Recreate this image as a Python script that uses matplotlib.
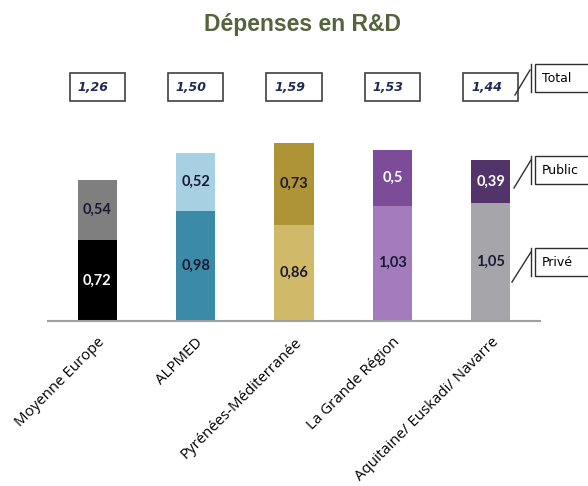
import matplotlib
matplotlib.use("Agg")
import matplotlib.pyplot as plt
from matplotlib.patches import Rectangle
from matplotlib.lines import Line2D

# Dépenses en R&D (% du PIB) par territoire
categories = ["Moyenne Europe", "ALPMED", "Pyrénées-Méditerranée",
              "La Grande Région", "Aquitaine/ Euskadi/ Navarre"]
prive = [0.72, 0.98, 0.86, 1.03, 1.05]
public = [0.54, 0.52, 0.73, 0.50, 0.39]
total = [1.26, 1.50, 1.59, 1.53, 1.44]
prive_labels = ["0,72", "0,98", "0,86", "1,03", "1,05"]
public_labels = ["0,54", "0,52", "0,73", "0,5", "0,39"]
total_labels = ["1,26", "1,50", "1,59", "1,53", "1,44"]
series_names = ["Total", "Public", "Privé"]

prive_colors = ["#000000", "#3B8BA8", "#D0BA6A", "#A47BBD", "#A6A5AA"]
public_colors = ["#7F7F7F", "#A7D0E2", "#AE9436", "#7C4C99", "#52336A"]
prive_text = ["white", "#1A1A33", "#1A1A33", "#1A1A33", "#1A1A33"]
public_text = ["#1A1A33", "#1A1A33", "#1A1A33", "white", "white"]

W, H = 588, 486
fig = plt.figure(figsize=(W / 100, H / 100), dpi=100)


def fx(px):
    return px / W


def fy(py):
    return 1 - py / H


ax = fig.add_axes([fx(48), fy(321), fx(540) - fx(48), fy(52) - fy(321)])
ax.set_xlim(-0.5, len(categories) - 0.5)
ax.set_ylim(0, 2.4)

x = list(range(len(categories)))
ax.bar(x, prive, width=0.4, color=prive_colors, zorder=2)
ax.bar(x, public, width=0.4, bottom=prive, color=public_colors, zorder=2)

lab_font = dict(family="Lato", fontsize=10.5, fontweight="bold")
for i in x:
    ax.text(i, prive[i] / 2, prive_labels[i], ha="center", va="center",
            color=prive_text[i], **lab_font)
    ax.text(i, prive[i] + public[i] / 2, public_labels[i], ha="center",
            va="center", color=public_text[i], **lab_font)
    # total boxes above each bar
    ax.add_patch(Rectangle((i - 0.28, 1.964), 0.56, 0.25, fill=False,
                           edgecolor="#404040", linewidth=1.2, clip_on=False))
    ax.text(i - 0.2, 2.085, total_labels[i], ha="left", va="center",
            fontsize=9, fontstyle="italic", fontweight="bold",
            color="#1F2A55", family="DejaVu Sans")

for s in ["top", "left", "right"]:
    ax.spines[s].set_visible(False)
ax.spines["bottom"].set_color("#A0A0A0")
ax.spines["bottom"].set_linewidth(1.5)
ax.set_yticks([])
ax.set_xticks(x)
ax.set_xticklabels(categories, rotation=45, ha="right",
                   rotation_mode="anchor", fontsize=10.8, family="Open Sans")
ax.tick_params(axis="x", length=0, pad=10)

fig.text(fx(303), fy(24), "Dépenses en R&D", ha="center", va="center",
         fontsize=16.5, fontweight="bold", color="#56643C",
         family="Liberation Sans")

# series name labels with leader lines on the right
boxes = [(64, 92), (156, 184), (248, 276)]
diags = [((515, 95), (530, 70)), ((514, 188), (531, 160)),
         ((512, 282), (531, 252))]
for name, (y0, y1), (p0, p1) in zip(series_names, boxes, diags):
    fig.patches.append(Rectangle((fx(535), fy(y1)), fx(80), fy(y0) - fy(y1),
                                 transform=fig.transFigure, fill=False,
                                 edgecolor="#303030", linewidth=1.0))
    fig.lines.append(Line2D([fx(531), fx(531)], [fy(y0), fy(y1)],
                            transform=fig.transFigure, color="#303030",
                            linewidth=1.0))
    fig.lines.append(Line2D([fx(p0[0]), fx(p1[0])], [fy(p0[1]), fy(p1[1])],
                            transform=fig.transFigure, color="#303030",
                            linewidth=1.0))
    fig.text(fx(542), fy((y0 + y1) / 2), name, ha="left", va="center",
             fontsize=9, color="#000000", family="DejaVu Sans")

fig.savefig("out.png", dpi=100)
